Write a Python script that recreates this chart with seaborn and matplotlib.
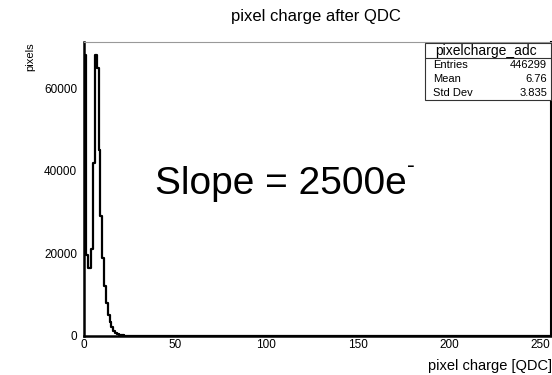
import numpy as np
import pandas as pd
import matplotlib
matplotlib.use("Agg")
import matplotlib.pyplot as plt
import seaborn as sns
from matplotlib.ticker import MultipleLocator
from matplotlib.lines import Line2D
from matplotlib.patches import Rectangle

# ---- data ----
bin_lefts = list(range(0, 36))
counts = [68000, 19600, 16500, 16500, 21000, 42000, 68000, 65000, 45000,
          29000, 19000, 12000, 8000, 5200, 3300, 2100, 1300, 800, 500,
          320, 200, 130, 80, 50, 35, 25, 15, 10, 8, 6, 4, 3, 2, 2, 1, 1]
x_ticks = [0, 50, 100, 150, 200, 250]
y_ticks = [0, 20000, 40000, 60000]
stats_labels = ["Entries", "Mean", "Std Dev"]
stats_values = ["446299", "6.76", "3.835"]

sns.set_style("white")
plt.rcParams['font.family'] = ['Liberation Sans', 'DejaVu Sans']
plt.rcParams['text.color'] = 'black'
plt.rcParams['xtick.color'] = 'black'
plt.rcParams['ytick.color'] = 'black'

W, H = 552, 375
fig = plt.figure(figsize=(W / 100, H / 100), dpi=100)
ax = fig.add_axes([84 / W, 1 - 336 / H, (551 - 84) / W, (336 - 42) / H])

df = pd.DataFrame({"x": np.array(bin_lefts, dtype=float) + 0.5,
                   "w": np.array(counts, dtype=float)})
sns.histplot(data=df, x="x", weights="w", bins=256, binrange=(0, 256),
             element="step", fill=False, color="black", linewidth=1.6, ax=ax)

ax.set_xlim(0, 256)
ax.set_ylim(0, 71200)
ax.set_xticks(x_ticks)
ax.set_yticks(y_ticks)
ax.xaxis.set_minor_locator(MultipleLocator(10))
ax.yaxis.set_minor_locator(MultipleLocator(5000))
ax.tick_params(axis="both", which="major", direction="in", length=8, width=0.8,
               color="#555555", labelcolor="black", labelsize=8.5, pad=2.5)
ax.tick_params(axis="y", which="major", pad=5)
ax.tick_params(axis="both", which="minor", direction="in", length=4, width=0.8,
               color="#555555")
ax.set_xlabel("")
ax.set_ylabel("")

for s in ["left", "bottom"]:
    ax.spines[s].set_color("black")
    ax.spines[s].set_linewidth(1.8)
ax.spines["top"].set_color("#999999")
ax.spines["top"].set_linewidth(0.8)
ax.spines["right"].set_color("black")
ax.spines["right"].set_linewidth(1.5)
ax.spines["top"].set_visible(True)
ax.spines["right"].set_visible(True)

fig.text(316 / W, 1 - 16 / H, "pixel charge after QDC", ha="center", va="center",
         fontsize=12)
fig.text(30 / W, 1 - 42 / H, "pixels", rotation=90, ha="center", va="top",
         fontsize=8)
fig.text(552 / W, 1 - 366 / H, "pixel charge [QDC]", ha="right", va="center",
         fontsize=10.5)

fig.text(155 / W, 1 - 194 / H, "Slope = 2500e", ha="left", va="baseline",
         fontsize=28)
fig.text(407 / W, 1 - 172 / H, "-", ha="left", va="baseline", fontsize=17)

# stats box
bx0, bx1, by0, by1 = 425, 551, 43, 100
fig.add_artist(Rectangle((bx0 / W, 1 - by1 / H), (bx1 - bx0) / W, (by1 - by0) / H,
                         transform=fig.transFigure, facecolor="white",
                         edgecolor="#333333", linewidth=0.8))
fig.add_artist(Line2D([bx0 / W, bx1 / W], [1 - 58 / H, 1 - 58 / H],
                      transform=fig.transFigure, color="#333333", linewidth=0.8))
fig.text(486 / W, 1 - 51 / H, "pixelcharge_adc", ha="center", va="center",
         fontsize=10)
rows_y = [64.5, 78.5, 92.5]
for lab, val, yy in zip(stats_labels, stats_values, rows_y):
    fig.text(433 / W, 1 - yy / H, lab, ha="left", va="center", fontsize=8)
    fig.text(547 / W, 1 - yy / H, val, ha="right", va="center", fontsize=8)

fig.savefig("out.png", dpi=100)
